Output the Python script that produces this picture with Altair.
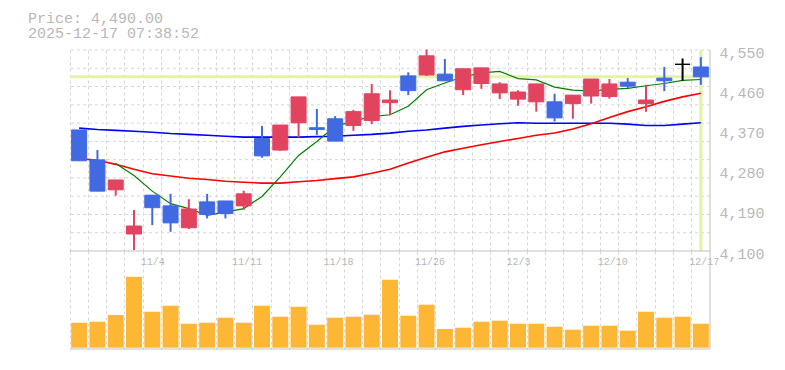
import altair as alt
import pandas as pd

# ---------------- data ----------------
dates = ["10/28", "10/29", "10/30", "10/31", "11/4", "11/5", "11/6", "11/7",
         "11/10", "11/11", "11/12", "11/13", "11/14", "11/17", "11/18", "11/19",
         "11/20", "11/21", "11/25", "11/26", "11/27", "11/28", "12/1", "12/2",
         "12/3", "12/4", "12/5", "12/8", "12/9", "12/10", "12/11", "12/12",
         "12/15", "12/16", "12/17"]
opens = [4371, 4304, 4237, 4138, 4225, 4201, 4152, 4210, 4212, 4201, 4352, 4326,
         4387, 4376, 4396, 4381, 4392, 4432, 4492, 4494, 4496, 4461, 4475, 4454,
         4440, 4434, 4434, 4430, 4447, 4446, 4478, 4430, 4487, 4518, 4512]
highs = [4371, 4326, 4259, 4192, 4225, 4228, 4216, 4228, 4212, 4235, 4380, 4382,
         4445, 4418, 4402, 4416, 4474, 4460, 4500, 4551, 4530, 4508, 4510, 4478,
         4460, 4474, 4452, 4449, 4485, 4485, 4487, 4472, 4512, 4531, 4534]
lows = [4302, 4234, 4224, 4102, 4158, 4143, 4149, 4173, 4173, 4192, 4309, 4324,
        4354, 4360, 4346, 4369, 4384, 4404, 4449, 4492, 4481, 4449, 4463, 4440,
        4425, 4412, 4390, 4396, 4430, 4441, 4465, 4412, 4458, 4481, 4472]
closes = [4302, 4234, 4259, 4156, 4197, 4163, 4194, 4182, 4184, 4228, 4313, 4382,
          4445, 4372, 4346, 4412, 4452, 4438, 4459, 4537, 4481, 4508, 4510, 4474,
          4456, 4474, 4398, 4449, 4485, 4474, 4469, 4438, 4481, 4518, 4490]
ma_short = [None, None, 4296, 4269, 4234, 4206, 4195, 4180, 4187, 4195, 4222, 4266,
            4314, 4345, 4379, 4391, 4401, 4405, 4424, 4461, 4476, 4490, 4499, 4502,
            4486, 4483, 4467, 4460, 4458, 4462, 4464, 4470, 4475, 4482, 4484]
ma_mid = [4307, 4303, 4294, 4283, 4273, 4268, 4263, 4260, 4256, 4254, 4252, 4252,
          4255, 4258, 4262, 4266, 4274, 4283, 4297, 4310, 4322, 4330, 4338, 4345,
          4352, 4359, 4364, 4373, 4385, 4399, 4412, 4423, 4435, 4445, 4453]
ma_long = [4375, 4372, 4370, 4368, 4366, 4363, 4361, 4359, 4357, 4355, 4355, 4355,
           4355, 4356, 4357, 4359, 4361, 4364, 4368, 4371, 4375, 4379, 4382, 4385,
           4387, 4386, 4386, 4386, 4386, 4386, 4384, 4381, 4381, 4384, 4387]
volumes = [250, 260, 327, 710, 360, 420, 240, 250, 300, 250, 420, 310, 410, 230,
           300, 310, 330, 680, 320, 430, 187, 200, 260, 270, 240, 240, 210, 180,
           220, 220, 170, 360, 300, 310, 240]
tick_labels = ["11/4", "11/11", "11/18", "11/26", "12/3", "12/10", "12/17"]
price_ticks = [4100, 4190, 4280, 4370, 4460, 4550]
PRICE_MIN, PRICE_MAX = 4100, 4550
VOL_MIN, VOL_MAX = -13, 967
timestamp = "2025-12-17 07:38:52"

# ---------------- styles ----------------
MONO = "Liberation Mono"
LABEL = "#b8b8b8"
GRID = "#d6d6d6"
BORDER = "#c0c0c0"
HL = "#e4f3aa"
UP, DOWN, FLAT = "#e2445f", "#4169e1", "#000000"
VOL = "#feb735"
W, H_PRICE, H_VOL = 640, 201, 98

df = pd.DataFrame({"d": dates, "open": opens, "high": highs, "low": lows,
                   "close": closes, "ma_s": ma_short, "ma_m": ma_mid,
                   "ma_l": ma_long, "v": volumes})
df["col"] = [UP if c > o else (DOWN if c < o else FLAT) for o, c in zip(opens, closes)]

x_enc = alt.X("d:N", sort=dates,
              scale=alt.Scale(domain=dates, paddingInner=0, paddingOuter=0),
              axis=alt.Axis(grid=True, gridColor=GRID, gridDash=[3, 3], gridWidth=1,
                            bandPosition=0, labels=False, ticks=False, domain=False,
                            title=None))
y_scale = alt.Scale(domain=[PRICE_MIN, PRICE_MAX], zero=False, nice=False)
y_axis = alt.Axis(orient="right", values=price_ticks, format=",.0f", labelFont=MONO,
                  labelFontSize=15, labelColor=LABEL, labelPadding=9, labelOffset=2,
                  ticks=False, domain=False, grid=False, title=None,
                  labelOverlap=False)

one = pd.DataFrame({"a": [0]})
grid_df = pd.DataFrame({"g": [PRICE_MAX - (PRICE_MAX - PRICE_MIN) * k / 11 for k in range(11)]})

base = alt.Chart(df)

hgrid = alt.Chart(grid_df).mark_rule(color=GRID, strokeDash=[3, 3], strokeWidth=1).encode(
    y=alt.Y("g:Q", scale=y_scale, axis=y_axis))
vline_pos = base.transform_filter(alt.datum.d == dates[-1]).mark_rule(
    color=HL, strokeWidth=3.3).encode(x=x_enc)
hline_pos = base.transform_filter(alt.datum.d == dates[-1]).mark_rule(
    color=HL, strokeWidth=3).encode(y=alt.Y("close:Q", scale=y_scale, axis=y_axis))
line_l = base.mark_line(color="#0000ff", strokeWidth=1.6).encode(
    x=x_enc, y=alt.Y("ma_l:Q", scale=y_scale, axis=y_axis))
line_m = base.mark_line(color="#ff0000", strokeWidth=1.6).encode(
    x=x_enc, y=alt.Y("ma_m:Q", scale=y_scale, axis=y_axis))
line_s = base.mark_line(color="#008000", strokeWidth=1.2).encode(
    x=x_enc, y=alt.Y("ma_s:Q", scale=y_scale, axis=y_axis))
wicks = base.mark_rule(strokeWidth=2).encode(
    x=x_enc, y=alt.Y("low:Q", scale=y_scale, axis=y_axis), y2="high:Q",
    color=alt.Color("col:N", scale=None))
bodies = base.mark_bar(width=15, strokeWidth=1).encode(
    x=x_enc, y=alt.Y("open:Q", scale=y_scale, axis=y_axis), y2="close:Q",
    color=alt.Color("col:N", scale=None), stroke=alt.Stroke("col:N", scale=None))
right_border = alt.Chart(one).mark_rule(color=BORDER, strokeWidth=1).encode(x=alt.value(W))
bottom_border = alt.Chart(one).mark_rule(color=BORDER, strokeWidth=1).encode(y=alt.value(H_PRICE))
title1 = alt.Chart(one).mark_text(
    text=f"Price: {closes[-1]:,.2f}", align="left", baseline="top", font=MONO,
    fontSize=15, color=LABEL).encode(x=alt.value(-42), y=alt.value(-39))
title2 = alt.Chart(one).mark_text(
    text=timestamp, align="left", baseline="top", font=MONO,
    fontSize=15, color=LABEL).encode(x=alt.value(-42), y=alt.value(-24))

price = alt.layer(hgrid, hline_pos, vline_pos, line_l, line_m, line_s, wicks, bodies,
                  right_border, bottom_border, title1, title2).properties(
    width=W, height=H_PRICE)

vol_bars = base.mark_bar(width=16, color=VOL).encode(
    x=x_enc, y=alt.Y("v:Q", scale=alt.Scale(domain=[VOL_MIN, VOL_MAX], nice=False, zero=False),
                     axis=None))
vol_labels = alt.Chart(pd.DataFrame({"d": tick_labels})).mark_text(
    align="left", baseline="middle", dx=-11.6, font=MONO, fontSize=10, color=LABEL).encode(
    x=x_enc, y=alt.value(11), text="d:N")
vol_right = alt.Chart(one).mark_rule(color=BORDER, strokeWidth=1).encode(x=alt.value(W))
vol_bottom = alt.Chart(one).mark_rule(color=BORDER, strokeWidth=1).encode(y=alt.value(H_VOL))

volume = alt.layer(vol_bars, vol_labels, vol_right, vol_bottom).properties(
    width=W, height=H_VOL)

chart = alt.vconcat(price, volume, spacing=0, bounds="flush").resolve_scale(
    x="independent", y="independent").properties(
    padding={"left": 20, "top": 3, "right": 5, "bottom": 5},
    background="white").configure_view(strokeWidth=0)

chart.save("out.html", embed_options={"renderer": "svg", "actions": False})
